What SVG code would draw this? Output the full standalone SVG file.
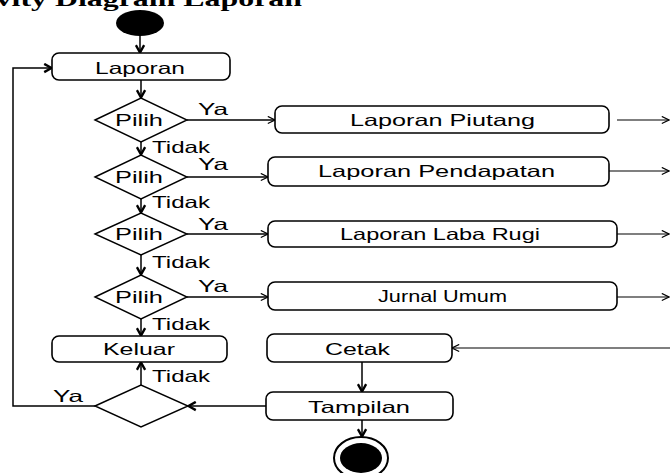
<svg xmlns="http://www.w3.org/2000/svg" width="670" height="473" viewBox="0 0 670 473">
  <defs>
    <style>
      .box { fill: #fff; stroke: #000; stroke-width: 1.6; }
      .dia { fill: #fff; stroke: #000; stroke-width: 1.4; }
      .lbl { font-family: "Liberation Sans", Arial, sans-serif; font-size: 16.5px; fill: #000; }
      .title { font-family: "Liberation Serif", "Times New Roman", serif; font-size: 22px; font-weight: bold; fill: #000; }
      .edge { fill: none; stroke: #000; stroke-width: 1.5; }
      .thin { fill: none; stroke: #000; stroke-width: 1.2; }
    </style>
    <!-- open chevron head for thin flows -->
    <marker id="open" viewBox="0 0 10 10" refX="9" refY="5" markerWidth="9" markerHeight="9" markerUnits="userSpaceOnUse" orient="auto">
      <path d="M1,1 L9,5 L1,9" fill="none" stroke="#000" stroke-width="1.3"/>
    </marker>
    <!-- heavier chevron head for main flow -->
    <marker id="bold" viewBox="0 0 12 12" refX="10.5" refY="6" markerWidth="11" markerHeight="11" markerUnits="userSpaceOnUse" orient="auto">
      <path d="M2,1.5 L10,6 L2,10.5" fill="none" stroke="#000" stroke-width="2.6"/>
    </marker>
  </defs>

  <rect width="670" height="473" fill="#fff"/>

  <text class="title" x="-61" y="6" textLength="363" lengthAdjust="spacingAndGlyphs">Activity Diagram Laporan</text>

  <g id="connectors">
    <path class="edge" d="M140,36 V53" marker-end="url(#bold)"/>
    <path class="edge" d="M141,80 V98" marker-end="url(#bold)"/>
    <path class="edge" d="M141,142 V155" marker-end="url(#bold)"/>
    <path class="edge" d="M141,199 V213" marker-end="url(#bold)"/>
    <path class="edge" d="M141,255 V275" marker-end="url(#bold)"/>
    <path class="edge" d="M141,319 V336" marker-end="url(#bold)"/>
    <path class="edge" d="M141,385 V362" marker-end="url(#bold)"/>
    <path class="edge" d="M95,406 H13 V68 H52" marker-end="url(#bold)"/>
    <path class="edge" d="M187,120 H275" marker-end="url(#open)"/>
    <path class="edge" d="M187,177 H268" marker-end="url(#open)"/>
    <path class="edge" d="M187,234 H268" marker-end="url(#open)"/>
    <path class="edge" d="M187,297 H268" marker-end="url(#open)"/>
    <path class="thin" d="M617,120 H669" marker-end="url(#open)"/>
    <path class="thin" d="M609,171 H669" marker-end="url(#open)"/>
    <path class="thin" d="M617,234 H669" marker-end="url(#open)"/>
    <path class="thin" d="M617,297 H669" marker-end="url(#open)"/>
    <path class="thin" d="M670,348 H452" marker-end="url(#open)"/>
    <path class="edge" d="M362,362 V392" marker-end="url(#bold)"/>
    <path class="edge" d="M266,406 H188" marker-end="url(#bold)"/>
    <path class="edge" d="M362,420 V437" marker-end="url(#bold)"/>
  </g>

  <g id="labels">
    <text class="lbl" x="198" y="115" textLength="30" lengthAdjust="spacingAndGlyphs">Ya</text>
    <text class="lbl" x="198" y="170" textLength="30" lengthAdjust="spacingAndGlyphs">Ya</text>
    <text class="lbl" x="198" y="230" textLength="30" lengthAdjust="spacingAndGlyphs">Ya</text>
    <text class="lbl" x="198" y="292" textLength="30" lengthAdjust="spacingAndGlyphs">Ya</text>
    <text class="lbl" x="53" y="402" textLength="30" lengthAdjust="spacingAndGlyphs">Ya</text>
    <text class="lbl" x="152" y="153" textLength="58" lengthAdjust="spacingAndGlyphs">Tidak</text>
    <text class="lbl" x="152" y="208" textLength="58" lengthAdjust="spacingAndGlyphs">Tidak</text>
    <text class="lbl" x="152" y="268" textLength="58" lengthAdjust="spacingAndGlyphs">Tidak</text>
    <text class="lbl" x="152" y="330" textLength="58" lengthAdjust="spacingAndGlyphs">Tidak</text>
    <text class="lbl" x="152" y="382" textLength="58" lengthAdjust="spacingAndGlyphs">Tidak</text>
  </g>

  <g id="start">
    <ellipse cx="140" cy="23" rx="24" ry="13" fill="#000"/>
  </g>

  <g id="laporan">
    <rect class="box" x="52" y="53" width="178" height="27" rx="7"/>
    <text class="lbl" x="95" y="74" textLength="90" lengthAdjust="spacingAndGlyphs">Laporan</text>
  </g>

  <g id="pilih1">
    <polygon class="dia" points="95,120 141,98 187,120 141,142"/>
    <text class="lbl" x="115" y="126" textLength="48" lengthAdjust="spacingAndGlyphs">Pilih</text>
  </g>
  <g id="pilih2">
    <polygon class="dia" points="95,177 141,155 187,177 141,199"/>
    <text class="lbl" x="115" y="183" textLength="48" lengthAdjust="spacingAndGlyphs">Pilih</text>
  </g>
  <g id="pilih3">
    <polygon class="dia" points="95,234 141,213 187,234 141,255"/>
    <text class="lbl" x="115" y="240" textLength="48" lengthAdjust="spacingAndGlyphs">Pilih</text>
  </g>
  <g id="pilih4">
    <polygon class="dia" points="95,297 141,275 187,297 141,319"/>
    <text class="lbl" x="115" y="303" textLength="48" lengthAdjust="spacingAndGlyphs">Pilih</text>
  </g>

  <g id="piutang">
    <rect class="box" x="275" y="106" width="334" height="27" rx="7"/>
    <text class="lbl" x="350" y="126" textLength="185" lengthAdjust="spacingAndGlyphs">Laporan Piutang</text>
  </g>
  <g id="pendapatan">
    <rect class="box" x="268" y="157" width="341" height="29" rx="7"/>
    <text class="lbl" x="318" y="177" textLength="237" lengthAdjust="spacingAndGlyphs">Laporan Pendapatan</text>
  </g>
  <g id="labarugi">
    <rect class="box" x="268" y="221" width="349" height="26" rx="7"/>
    <text class="lbl" x="340" y="240" textLength="200" lengthAdjust="spacingAndGlyphs">Laporan Laba Rugi</text>
  </g>
  <g id="jurnal">
    <rect class="box" x="268" y="282" width="349" height="28" rx="7"/>
    <text class="lbl" x="378" y="302" textLength="129" lengthAdjust="spacingAndGlyphs">Jurnal Umum</text>
  </g>

  <g id="keluar">
    <rect class="box" x="52" y="336" width="175" height="26" rx="7"/>
    <text class="lbl" x="103" y="355" textLength="72" lengthAdjust="spacingAndGlyphs">Keluar</text>
  </g>
  <g id="cetak">
    <rect class="box" x="267" y="334" width="185" height="28" rx="7"/>
    <text class="lbl" x="325" y="355" textLength="65" lengthAdjust="spacingAndGlyphs">Cetak</text>
  </g>
  <g id="tampilan">
    <rect class="box" x="266" y="392" width="187" height="28" rx="7"/>
    <text class="lbl" x="308" y="413" textLength="102" lengthAdjust="spacingAndGlyphs">Tampilan</text>
  </g>

  <g id="cek">
    <polygon class="dia" points="95,406 141,385 188,406 141,427"/>
  </g>

  <g id="end">
    <ellipse cx="361" cy="458" rx="27" ry="21" fill="#fff" stroke="#000" stroke-width="2"/>
    <ellipse cx="361" cy="458" rx="21" ry="15" fill="#000"/>
  </g>
</svg>
